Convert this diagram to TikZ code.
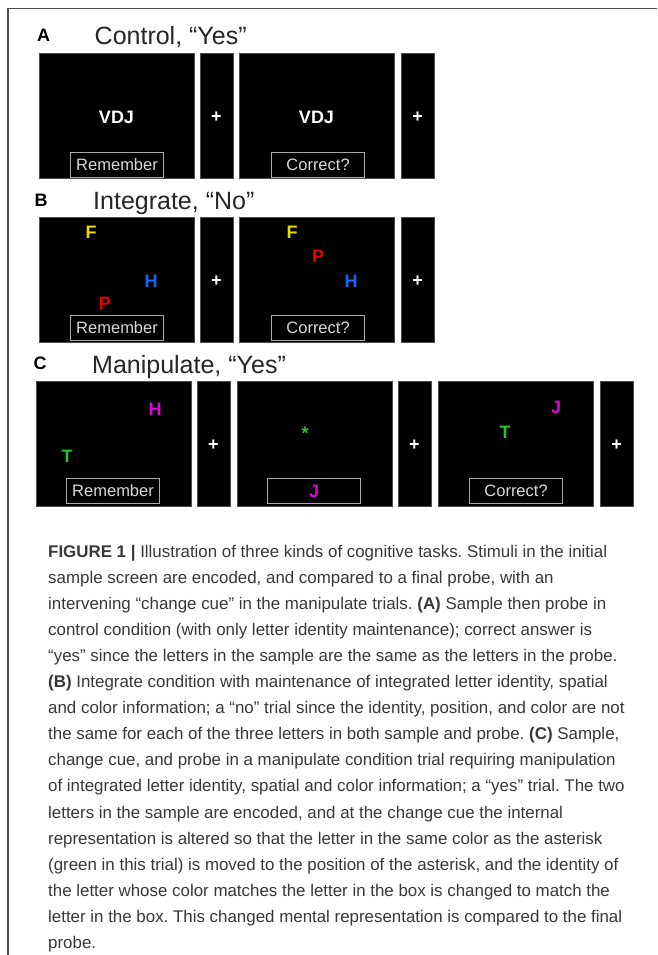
\documentclass[tikz,border=0pt]{standalone}
\usepackage{fontspec}
\setmainfont{Liberation Sans}
\frenchspacing
\definecolor{frameline}{HTML}{505050}
\definecolor{cuegray}{HTML}{A8A8A8}
\definecolor{cuetext}{HTML}{D8D8D8}
\definecolor{ltyellow}{HTML}{E6DC00}
\definecolor{ltred}{HTML}{E80000}
\definecolor{ltblue}{HTML}{1466FF}
\definecolor{ltmagenta}{HTML}{E000E0}
\definecolor{ltgreen}{HTML}{2CC42C}
\definecolor{captext}{HTML}{383838}
\tikzset{
  screen/.style={fill=black, draw=black!70, line width=0.6pt, anchor=north west, inner sep=0pt},
  wide/.style={screen, minimum width=155pt, minimum height=125pt},
  slim/.style={screen, minimum width=33pt, minimum height=125pt},
  cuebox/.style={draw=cuegray, line width=1.1pt, anchor=north west, minimum width=93pt, minimum height=25pt, inner sep=0pt, text=cuetext, font=\fontsize{16.5}{18}\selectfont},
  stim/.style={font=\fontsize{18}{20}\selectfont\bfseries, inner sep=0pt, anchor=center},
  fix/.style={stim, text=white},
  panellabel/.style={font=\fontsize{18}{20}\selectfont\bfseries, anchor=base, inner sep=0pt},
  paneltitle/.style={font=\fontsize{25}{27}\selectfont, text=black!85, anchor=base west, inner sep=0pt},
  capline/.style={font=\fontsize{16.9}{18}\selectfont, text=captext, anchor=base west, inner sep=0pt}
}
\begin{document}
\begin{tikzpicture}[x=1pt, y=-1pt]
\useasboundingbox (0,0) rectangle (657,955);
\fill[white] (0,0) rectangle (657,955);
% outer frame (top and left edges)
\coordinate (ftl) at (8,8.5);
\coordinate (ftr) at (657,8.5);
\coordinate (fbl) at (8,955);
\draw[frameline, line width=1.4pt] (ftr) -- (ftl) -- (fbl);

% ---------- Panel A ----------
\node[panellabel] (labA) at (43.5,41.5) {A};
\node[paneltitle] (titA) at (94.5,45) {Control, “Yes”};
\node[wide] (a1) at (39,53) {};
\node[slim] (a2) at (200,53) {};
\node[wide] (a3) at (239,53) {};
\node[slim] (a4) at (401,53) {};
\node[fix] (a1txt) at (116.5,117) {VDJ};
\node[fix] (a2txt) at (216.5,117) {+};
\node[fix] (a3txt) at (316.5,117) {VDJ};
\node[fix] (a4txt) at (417.5,117) {+};
\node[cuebox] (a1cue) at (70,151.5) {Remember};
\node[cuebox] (a3cue) at (271,151.5) {Correct?};

% ---------- Panel B ----------
\node[panellabel] (labB) at (41,206) {B};
\node[paneltitle] (titB) at (93,209) {Integrate, “No”};
\node[wide] (b1) at (39,217) {};
\node[slim] (b2) at (200,217) {};
\node[wide] (b3) at (239,217) {};
\node[slim] (b4) at (401,217) {};
\node[stim, text=ltyellow] (b1f) at (91,232) {F};
\node[stim, text=ltblue] (b1h) at (151,281) {H};
\node[stim, text=ltred] (b1p) at (105,303) {P};
\node[fix] (b2txt) at (216.5,281) {+};
\node[stim, text=ltyellow] (b3f) at (292,232) {F};
\node[stim, text=ltred] (b3p) at (318,256) {P};
\node[stim, text=ltblue] (b3h) at (351,281) {H};
\node[fix] (b4txt) at (417.5,281) {+};
\node[cuebox] (b1cue) at (70,315) {Remember};
\node[cuebox] (b3cue) at (271,315) {Correct?};

% ---------- Panel C ----------
\node[panellabel] (labC) at (40,369) {C};
\node[paneltitle] (titC) at (92,373) {Manipulate, “Yes”};
\node[wide] (c1) at (36,381) {};
\node[slim] (c2) at (197,381) {};
\node[wide] (c3) at (237,381) {};
\node[slim] (c4) at (398,381) {};
\node[wide] (c5) at (438,381) {};
\node[slim] (c6) at (600,381) {};
\node[stim, text=ltmagenta] (c1h) at (155,409) {H};
\node[stim, text=ltgreen] (c1t) at (67,456) {T};
\node[fix] (c2txt) at (213.5,445) {+};
\node[stim, text=ltgreen] (c3star) at (305,433) {*};
\node[fix] (c4txt) at (414.5,445) {+};
\node[stim, text=ltmagenta] (c5j) at (556,407) {J};
\node[stim, text=ltgreen] (c5t) at (505,432) {T};
\node[fix] (c6txt) at (616.5,445) {+};
\node[cuebox] (c1cue) at (66,478) {Remember};
\node[cuebox, text=ltmagenta, font=\fontsize{18}{20}\selectfont\bfseries] (c3cue) at (267,478) {J};
\node[cuebox] (c5cue) at (469,478) {Correct?};

% ---------- Caption ----------
\node[capline] (cap1) at (48,557) {\textbf{FIGURE 1 |} Illustration of three kinds of cognitive tasks. Stimuli in the initial};
\node[capline] (cap2) at (48,583.1) {sample screen are encoded, and compared to a final probe, with an};
\node[capline] (cap3) at (48,609.2) {intervening “change cue” in the manipulate trials. \textbf{(A)} Sample then probe in};
\node[capline] (cap4) at (48,635.3) {control condition (with only letter identity maintenance); correct answer is};
\node[capline] (cap5) at (48,661.4) {“yes” since the letters in the sample are the same as the letters in the probe.};
\node[capline] (cap6) at (48,687.5) {\textbf{(B)} Integrate condition with maintenance of integrated letter identity, spatial};
\node[capline] (cap7) at (48,713.6) {and color information; a “no” trial since the identity, position, and color are not};
\node[capline] (cap8) at (48,739.7) {the same for each of the three letters in both sample and probe. \textbf{(C)} Sample,};
\node[capline] (cap9) at (48,765.8) {change cue, and probe in a manipulate condition trial requiring manipulation};
\node[capline] (cap10) at (48,791.9) {of integrated letter identity, spatial and color information; a “yes” trial. The two};
\node[capline] (cap11) at (48,818) {letters in the sample are encoded, and at the change cue the internal};
\node[capline] (cap12) at (48,844.1) {representation is altered so that the letter in the same color as the asterisk};
\node[capline] (cap13) at (48,870.2) {(green in this trial) is moved to the position of the asterisk, and the identity of};
\node[capline] (cap14) at (48,896.3) {the letter whose color matches the letter in the box is changed to match the};
\node[capline] (cap15) at (48,922.4) {letter in the box. This changed mental representation is compared to the final};
\node[capline] (cap16) at (48,948.5) {probe.};
\end{tikzpicture}
\end{document}
